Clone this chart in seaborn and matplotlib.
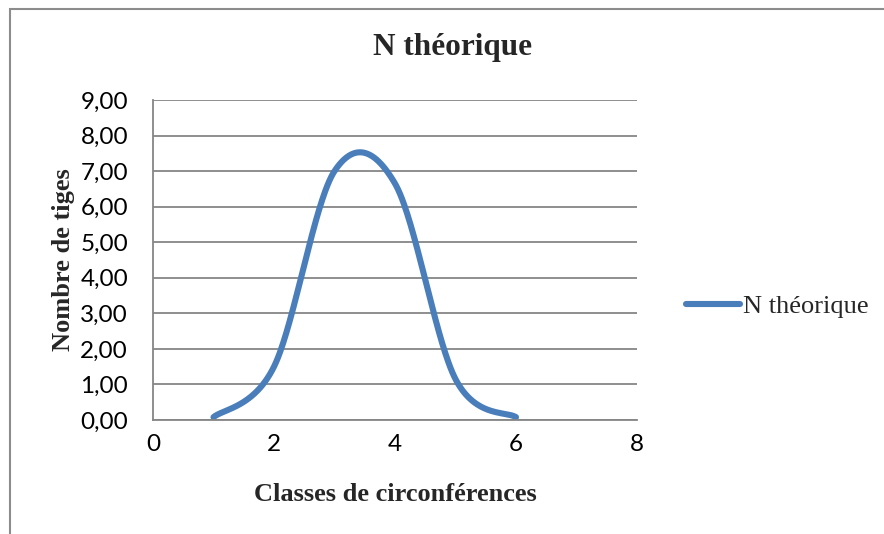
import numpy as np
import pandas as pd
import matplotlib
matplotlib.use("Agg")
import matplotlib.pyplot as plt
import seaborn as sns
from matplotlib.patches import Rectangle

# data
classes = [1, 2, 3, 4, 5, 6]
n_theorique = [0.08, 1.5, 7.0, 6.65, 1.15, 0.08]
series_name = "N théorique"
y_ticks = [0, 1, 2, 3, 4, 5, 6, 7, 8, 9]
x_ticks = [0, 2, 4, 6, 8]


def smooth_line(x, y, tension=1 / 6, n=60):
    # bezier smoothing like the excel "smoothed line" option
    p = np.column_stack([x, y]).astype(float)
    pts = []
    for i in range(len(p) - 1):
        p0 = p[i - 1] if i > 0 else p[i]
        p1, p2 = p[i], p[i + 1]
        p3 = p[i + 2] if i + 2 < len(p) else p[i + 1]
        c1 = p1 + (p2 - p0) * tension
        c2 = p2 - (p3 - p1) * tension
        t = np.linspace(0, 1, n)[:, None]
        seg = ((1 - t) ** 3) * p1 + 3 * ((1 - t) ** 2) * t * c1 + 3 * (1 - t) * t ** 2 * c2 + t ** 3 * p2
        pts.append(seg if i == 0 else seg[1:])
    pts = np.vstack(pts)
    return pts[:, 0], pts[:, 1]


sx, sy = smooth_line(classes, n_theorique)
df = pd.DataFrame({"x": sx, "y": sy, "serie": series_name})

sns.set_style("white")
fig = plt.figure(figsize=(8.84, 5.34), dpi=100)
ax = fig.add_axes([153 / 884, 1 - 420 / 534, (637 - 153) / 884, 320 / 534])

sns.lineplot(data=df, x="x", y="y", hue="serie", palette=["#4a7ebb"], linewidth=4.4,
             sort=False, estimator=None, ax=ax)
ax.lines[0].set_solid_capstyle("round")

ax.set_xlim(0, 8)
ax.set_ylim(0, 9)
ax.set_xticks(x_ticks)
ax.set_yticks(y_ticks)
ax.set_yticklabels([f"{v:.2f}".replace(".", ",") for v in y_ticks])
ax.set_xticklabels([str(v) for v in x_ticks])
ax.tick_params(axis="both", labelsize=17.5, colors="#868686", length=6, width=1.3,
               labelcolor="black", direction="out")
ax.tick_params(axis="y", pad=12)
ax.tick_params(axis="x", pad=4)
for lab in ax.get_xticklabels() + ax.get_yticklabels():
    lab.set_family("Lato")
ax.grid(axis="y", color="#868686", linewidth=1.3)
ax.grid(axis="x", visible=False)
for side in ["top", "right"]:
    ax.spines[side].set_visible(False)
for side in ["left", "bottom"]:
    ax.spines[side].set_color("#868686")
    ax.spines[side].set_linewidth(1.3)

ax.set_xlabel("Classes de circonférences", family="Liberation Serif", fontweight="bold",
              fontsize=19, labelpad=20)
ax.set_ylabel("Nombre de tiges", family="Liberation Serif", fontweight="bold",
              fontsize=19, labelpad=4)
fig.text(453 / 884, 1 - 48 / 534, "N théorique", family="Liberation Serif", fontweight="bold",
         fontsize=22.5, ha="center", va="center")

leg = ax.legend(loc="center left", bbox_to_anchor=(1.052, 0.355), frameon=False,
                prop={"family": "Liberation Serif", "size": 19}, handlelength=2.05,
                handletextpad=0.1)
for h in leg.get_lines():
    h.set_linewidth(4.4)

# chart border, cut off on the right and bottom like the screenshot
fig.add_artist(Rectangle((10 / 884, -0.1), 1.2, 1 - 9 / 534 + 0.1, transform=fig.transFigure,
                         fill=False, edgecolor="#8c8c8c", linewidth=1.5))

fig.savefig("out.png", dpi=100)
